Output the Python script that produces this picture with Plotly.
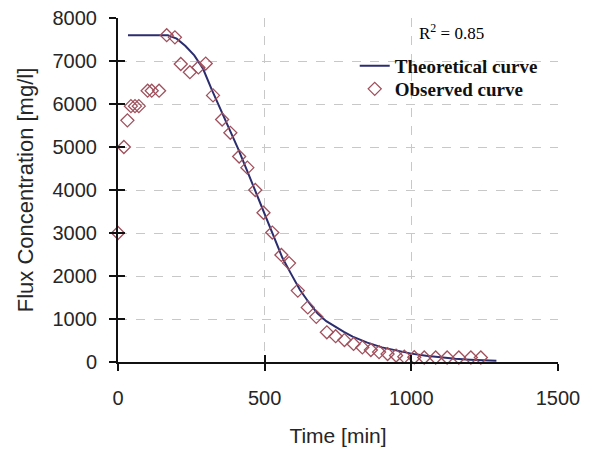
import plotly.graph_objects as go

# Theoretical curve
theo_x = [34, 170, 200, 230, 260, 290, 320, 350, 380, 410, 440, 470, 500, 530, 560,
          590, 620, 650, 680, 710, 740, 770, 800, 850, 900, 950, 1000, 1050, 1100,
          1150, 1200, 1250, 1290]
theo_y = [7600, 7600, 7520, 7350, 7130, 6820, 6330, 5880, 5430, 4950, 4450, 3950,
          3450, 2970, 2430, 2050, 1680, 1390, 1130, 950, 820, 700, 590, 450, 340,
          260, 195, 145, 105, 75, 55, 40, 30]

# Observed curve
obs_x = [0, 20, 32, 44, 58, 71, 101, 115, 140, 166, 194, 214, 245, 274, 299, 324,
         355, 383, 413, 441, 468, 496, 526, 557, 583, 613, 647, 676, 712, 742, 772,
         803, 833, 862, 890, 919, 948, 976, 1010, 1044, 1083, 1122, 1162, 1203, 1237]
obs_y = [3000, 5000, 5620, 5950, 5950, 5950, 6310, 6310, 6310, 7600, 7550, 6930,
         6740, 6850, 6940, 6200, 5640, 5330, 4780, 4520, 4000, 3470, 3010, 2490,
         2300, 1660, 1270, 1050, 690, 600, 510, 420, 340, 280, 230, 185, 150, 125,
         110, 105, 105, 105, 105, 105, 105]

x_ticks = [0, 500, 1000, 1500]
y_ticks = [0, 1000, 2000, 3000, 4000, 5000, 6000, 7000, 8000]

fig = go.Figure()
fig.add_trace(go.Scatter(
    x=theo_x, y=theo_y, mode="lines", name="Theoretical curve",
    line=dict(color="#2b2d6e", width=2), cliponaxis=False, legend="legend"))
fig.add_trace(go.Scatter(
    x=obs_x, y=obs_y, mode="markers", name="Observed curve",
    marker=dict(symbol="diamond-open", size=10, color="#a0505c",
                line=dict(width=1.3, color="#a0505c")),
    cliponaxis=False, legend="legend2"))

tick_font = dict(family="Liberation Sans, Arial", size=20, color="#262626")
leg_font = dict(family="Liberation Serif, Times New Roman", size=19,
                color="#111", weight="bold")

# page body has an 8px margin, so the figure is 8px smaller and margins shifted
fig.update_layout(
    width=581, height=442,
    margin=dict(l=110, r=31, t=10, b=88),
    paper_bgcolor="white", plot_bgcolor="white",
    showlegend=True,
    legend=dict(x=0.538, y=1 - (66 - 18) / 344, xanchor="left", yanchor="middle",
                bgcolor="rgba(0,0,0,0)", borderwidth=0, font=leg_font,
                itemwidth=30),
    legend2=dict(x=0.538, y=1 - (89 - 18) / 344, xanchor="left", yanchor="middle",
                 bgcolor="rgba(0,0,0,0)", borderwidth=0, font=leg_font,
                 itemwidth=30),
    xaxis=dict(range=[0, 1500], tickvals=x_ticks, ticks="outside", ticklen=7,
               tickcolor="#111", tickwidth=1.5, automargin=False,
               ticklabeloverflow="allow",
               showline=True, linecolor="#111", linewidth=2,
               showgrid=True, gridcolor="#c8c8c8", griddash="dash", gridwidth=1,
               zeroline=False, tickfont=tick_font, ticklabelstandoff=10,
               title=dict(text="Time [min]", standoff=20,
                          font=dict(family="Liberation Sans, Arial", size=21,
                                    color="#262626"))),
    yaxis=dict(range=[0, 8000], tickvals=y_ticks, ticks="outside", ticklen=7,
               tickcolor="#111", tickwidth=1.5, automargin=False,
               ticklabeloverflow="allow",
               showline=True, linecolor="#111", linewidth=2,
               showgrid=True, gridcolor="#c8c8c8", griddash="dash", gridwidth=1,
               zeroline=False, tickfont=tick_font, ticklabelstandoff=8,
               title=dict(text="Flux Concentration [mg/l]", standoff=13,
                          font=dict(family="Liberation Sans, Arial", size=22,
                                    color="#262626"))),
    xaxis2=dict(overlaying="x", range=[0, 1500], tickvals=x_ticks, ticks="inside",
                ticklen=7, tickcolor="#111", tickwidth=1.5, showticklabels=False,
                showgrid=False, showline=False, zeroline=False, side="bottom",
                anchor="y", automargin=False),
    yaxis2=dict(overlaying="y", range=[0, 8000], tickvals=y_ticks, ticks="inside",
                ticklen=7, tickcolor="#111", tickwidth=1.5, showticklabels=False,
                showgrid=False, showline=False, zeroline=False, side="left",
                anchor="x", automargin=False),
    annotations=[dict(x=(451 - 118) / 440, y=1 - (32 - 18) / 344,
                      xref="paper", yref="paper", xanchor="center",
                      yanchor="middle",
                      text="R<sup>2</sup> = 0.85", showarrow=False,
                      font=dict(family="Liberation Serif, Times New Roman",
                                size=17, color="#000"))],
)

fig.add_trace(go.Scatter(x=[None], y=[None], xaxis="x2", yaxis="y2",
                         showlegend=False, hoverinfo="skip"))

fig.write_html("out.html")
